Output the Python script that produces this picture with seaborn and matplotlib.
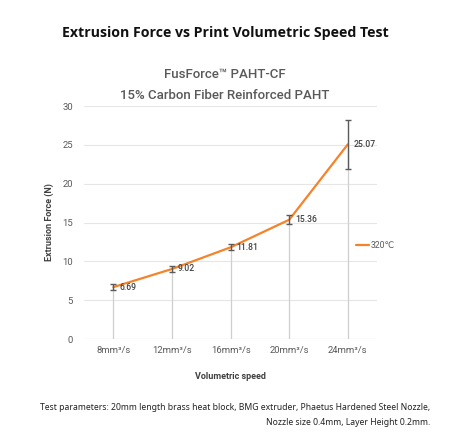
import matplotlib
matplotlib.use("Agg")
import matplotlib.pyplot as plt
import seaborn as sns
import pandas as pd
import numpy as np

speeds = ["8mm³/s", "12mm³/s", "16mm³/s", "20mm³/s", "24mm³/s"]
force = [6.69, 9.02, 11.81, 15.36, 25.07]
err_low = [0.4, 0.35, 0.4, 0.6, 3.2]
err_high = [0.4, 0.35, 0.4, 0.6, 3.1]
y_ticks = [0, 5, 10, 15, 20, 25, 30]
series_name = "320℃"

df = pd.DataFrame({"speed": speeds, "force": force})

sns.set_theme(style="white")
plt.rcParams["font.family"] = ["Roboto", "DejaVu Sans"]

fig = plt.figure(figsize=(4.5, 4.42), dpi=100)
ax = fig.add_axes([0.187, 0.233, 0.651, 0.527])

pos = np.arange(len(speeds))

# drop lines from each point down to the baseline
ax.vlines(pos, 0, df["force"], color="#cfcfcf", lw=0.9, zorder=1)

sns.lineplot(data=df, x="speed", y="force", sort=False, color="#f5832a",
             lw=1.6, ax=ax, label=series_name, zorder=3)

ax.errorbar(pos, df["force"], yerr=[err_low, err_high], fmt="none",
            ecolor="#5a5a5a", elinewidth=1.0, capsize=2, capthick=1.0, zorder=4)

for x, v in zip(pos, force):
    ax.annotate(f"{v:.2f}", (x, v), xytext=(4, 0), textcoords="offset points",
                ha="left", va="center", fontsize=6.2, fontweight="medium",
                color="#404040", zorder=5)

ax.set_xlim(-0.5, len(speeds) - 0.5)
ax.set_ylim(0, 30)
ax.set_yticks(y_ticks)
ax.yaxis.grid(True, color="#e6e6e6", lw=0.8)
ax.set_axisbelow(True)
for s in ax.spines.values():
    s.set_visible(False)
ax.axhline(0, color="#d9d9d9", lw=0.8, zorder=0)
ax.tick_params(axis="both", length=0, labelsize=6.8, colors="#595959")
ax.tick_params(axis="y", pad=8)
ax.tick_params(axis="x", pad=5)

ax.set_xlabel("Volumetric speed", fontsize=6.5, fontweight="bold", color="#404040", labelpad=12)
ax.set_ylabel("Extrusion Force (N)", fontsize=6.5, fontweight="bold", color="#404040", labelpad=6)

leg = ax.legend(loc="center left", bbox_to_anchor=(0.9, 12 / 30), frameon=False,
                fontsize=6.2, handlelength=1.6, handletextpad=0.2, labelcolor="#595959")

fig.text(0.5, 0.925, "Extrusion Force vs Print Volumetric Speed Test", ha="center", va="center",
         fontsize=10.2, fontweight="bold", color="#111111", family=["Open Sans", "DejaVu Sans"])
fig.text(0.5, 0.832, "FusForce™ PAHT-CF", ha="center", va="center",
         fontsize=9.5, fontweight="medium", color="#595959")
fig.text(0.5, 0.783, "15% Carbon Fiber Reinforced PAHT", ha="center", va="center",
         fontsize=9.5, fontweight="medium", color="#595959")

fig.text(0.955, 0.079, "Test parameters: 20mm length brass heat block, BMG extruder, Phaetus Hardened Steel Nozzle,",
         ha="right", va="center", fontsize=6.2, color="#222222", family=["Noto Sans", "DejaVu Sans"])
fig.text(0.955, 0.043, "Nozzle size 0.4mm, Layer Height 0.2mm.",
         ha="right", va="center", fontsize=6.2, color="#222222", family=["Noto Sans", "DejaVu Sans"])

fig.savefig("out.png", dpi=100, facecolor="white")
